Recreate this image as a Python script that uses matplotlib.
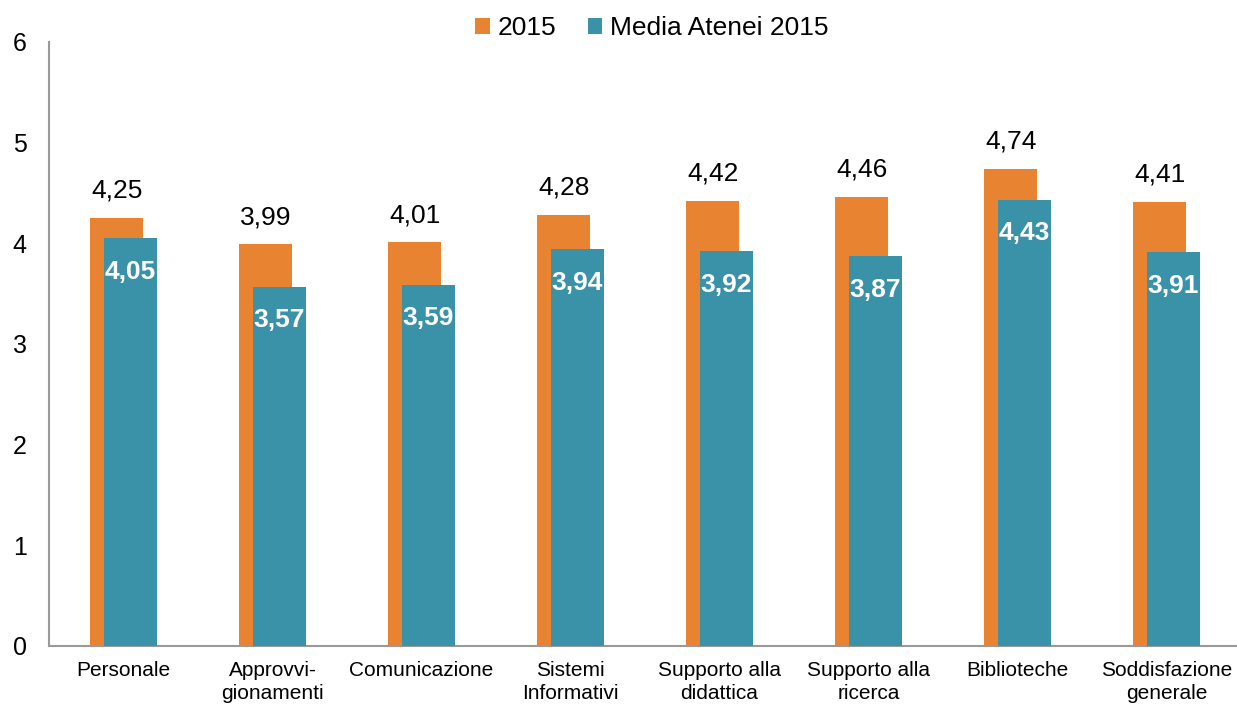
import numpy as np
import matplotlib.pyplot as plt

plt.rcParams['font.family'] = ['Liberation Sans', 'DejaVu Sans']

categories = ['Personale', 'Approvvi-\ngionamenti', 'Comunicazione', 'Sistemi\nInformativi',
              'Supporto alla\ndidattica', 'Supporto alla\nricerca', 'Biblioteche',
              'Soddisfazione\ngenerale']
vals_2015 = [4.25, 3.99, 4.01, 4.28, 4.42, 4.46, 4.74, 4.41]
vals_media = [4.05, 3.57, 3.59, 3.94, 3.92, 3.87, 4.43, 3.91]

orange = '#E88331'
teal = '#3A92A8'

fig = plt.figure(figsize=(12.37, 7.07), dpi=100)
ax = fig.add_axes([0.0396, 0.0863, 0.9636, 0.8543])

x = np.arange(len(categories))
w = 0.355
off = 0.045

b1 = ax.bar(x - off, vals_2015, w, color=orange, label='2015', zorder=2)
b2 = ax.bar(x + off, vals_media, w, color=teal, label='Media Atenei 2015', zorder=3)

fmt = lambda v: f'{v:.2f}'.replace('.', ',')
for xi, v in zip(x, vals_2015):
    ax.annotate(fmt(v), (xi - off, v), xytext=(0, 11), textcoords='offset points',
                ha='center', va='bottom', fontsize=19, color='black')
for xi, v in zip(x, vals_media):
    ax.annotate(fmt(v), (xi + off, v), xytext=(0, -24), textcoords='offset points',
                ha='center', va='center', fontsize=19, color='white', fontweight='bold',
                zorder=4)

ax.set_xlim(-0.5, 7.5)
ax.set_ylim(0, 6)
ax.set_yticks(range(7))
ax.set_xticks(x)
ax.set_xticklabels(categories, fontsize=15, linespacing=1.25)
ax.tick_params(axis='y', length=0, labelsize=18, pad=16)
ax.tick_params(axis='x', length=0, pad=11)

for s in ['top', 'right']:
    ax.spines[s].set_visible(False)
for s in ['left', 'bottom']:
    ax.spines[s].set_color('#999999')
    ax.spines[s].set_linewidth(1.5)

fig.legend(handles=[b1, b2], loc='center', bbox_to_anchor=(0.527, 1 - 28 / 707), ncol=2,
           frameon=False, fontsize=19, handlelength=0.55, handleheight=0.55,
           handletextpad=0.3, columnspacing=1.2)

fig.savefig('out.png', dpi=100)
